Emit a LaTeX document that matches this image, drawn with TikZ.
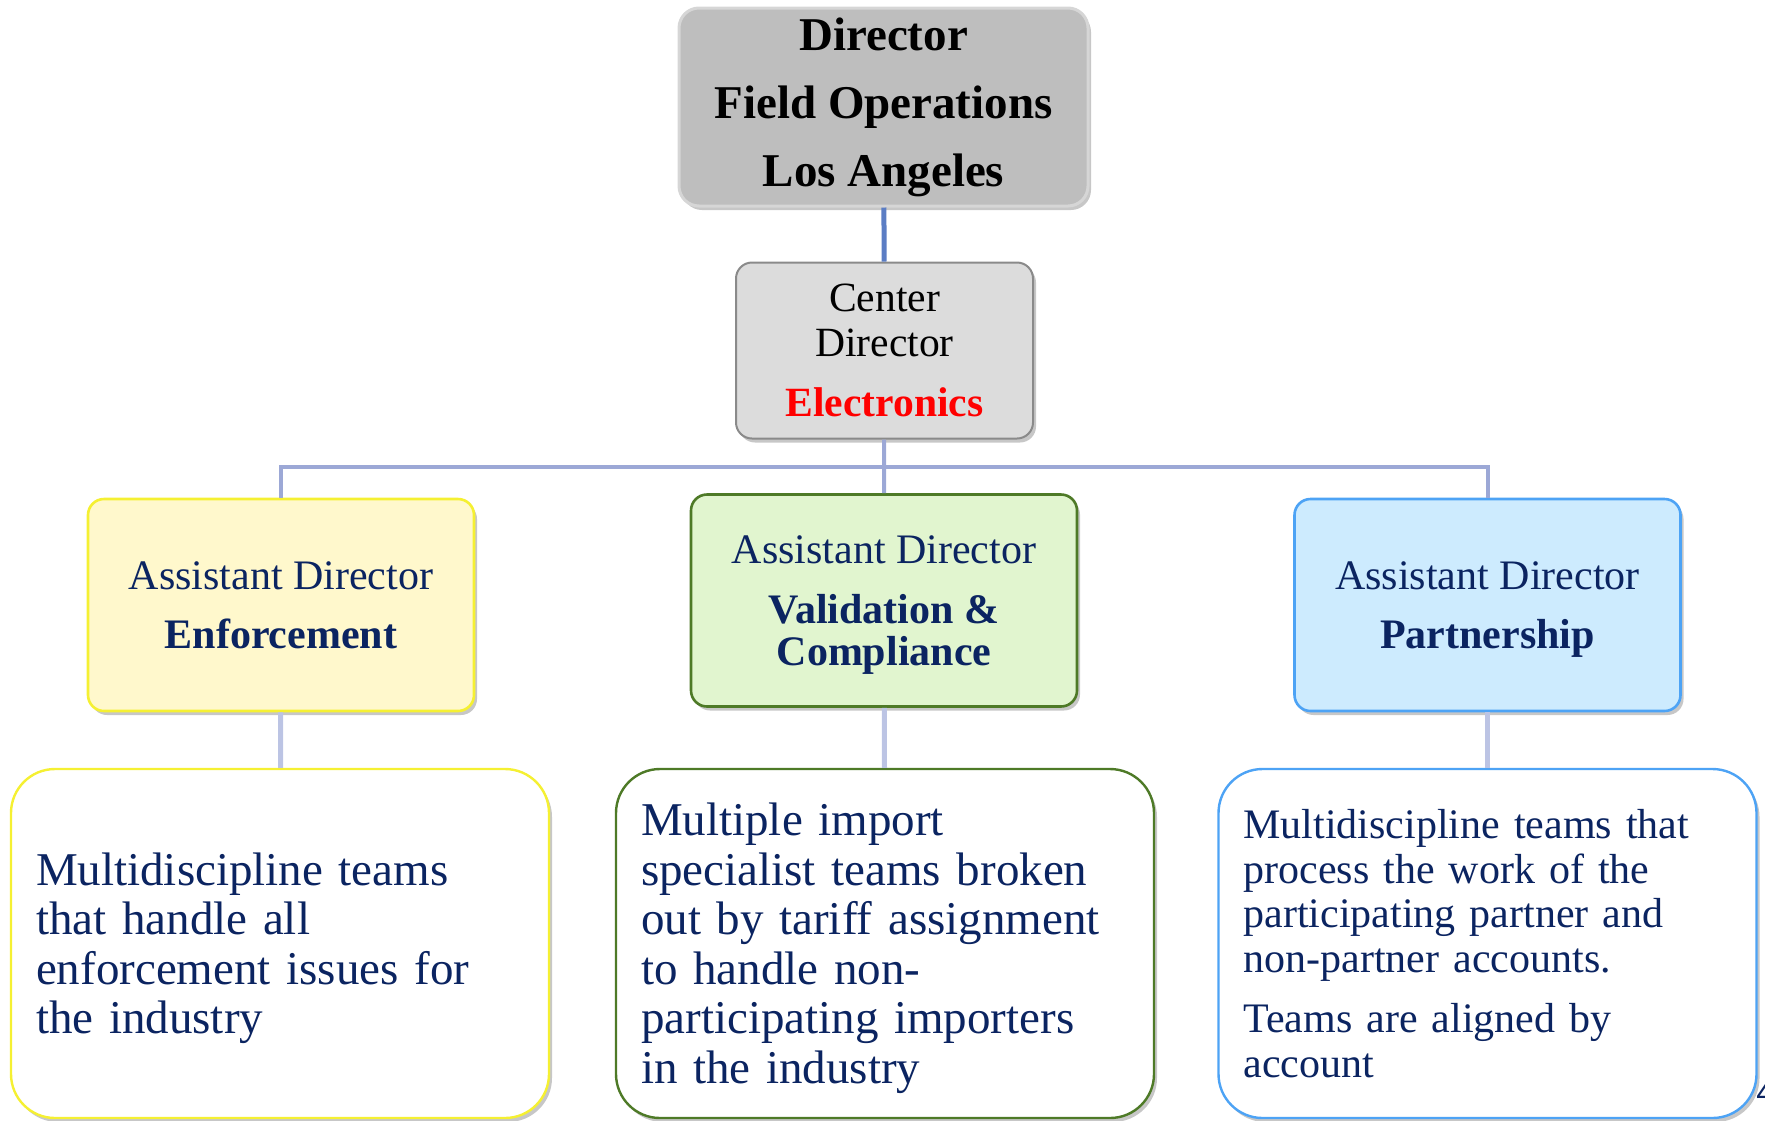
\documentclass[tikz,border=0pt]{standalone}
\usepackage{fontspec}
\setmainfont{Liberation Serif}
\newfontfamily\pagefont{Liberation Sans}
\usepackage{xcolor}
\usetikzlibrary{shadows}
\definecolor{orgNavy}{HTML}{0B2461}
\definecolor{orgGray}{HTML}{BEBEBE}
\definecolor{orgRim}{HTML}{D6D6D6}
\definecolor{orgLight}{HTML}{DCDCDC}
\definecolor{orgEdge}{HTML}{8A8A8A}
\definecolor{orgYellow}{HTML}{FFF8CC}
\definecolor{orgYellowEdge}{HTML}{F5F032}
\definecolor{orgGreen}{HTML}{E1F5CF}
\definecolor{orgGreenEdge}{HTML}{4E7A27}
\definecolor{orgBlue}{HTML}{CDEBFE}
\definecolor{orgBlueEdge}{HTML}{4DA3F5}
\definecolor{orgLinkTop}{HTML}{5B7DC4}
\definecolor{orgLinkBus}{HTML}{9CA8D6}
\definecolor{orgLinkLow}{HTML}{BCC4E4}
\definecolor{orgRed}{HTML}{FF0000}

\begin{document}
\begin{tikzpicture}[
    x=0.5pt,y=-0.5pt,
    shade/.style={drop shadow={shadow xshift=1.5pt,shadow yshift=-2pt,opacity=0.22,fill=black}},
    head/.style={draw=orgRim,line width=1.5pt,fill=orgGray,rounded corners=10pt,shade,
                 minimum width=204.5pt,minimum height=99pt,inner sep=0pt,align=center,
                 font=\fontsize{23.5}{34}\selectfont\bfseries},
    center/.style={draw=orgEdge,line width=1pt,fill=orgLight,rounded corners=8pt,shade,
                   minimum width=148.5pt,minimum height=88pt,inner sep=0pt,align=center,
                   font=\fontsize{20.8}{22.5}\selectfont},
    ad/.style={line width=1.3pt,rounded corners=8pt,shade,text=orgNavy,
               minimum width=193pt,minimum height=106pt,inner sep=0pt,align=center,
               text depth=0pt,font=\fontsize{21}{21}\selectfont},
    team/.style={line width=1.2pt,fill=white,rounded corners=22pt,shade,text=orgNavy,
                 minimum height=174.5pt,inner ysep=0pt,inner xsep=12.5pt,
                 text width=244pt,align=left},
    bigtxt/.style={font=\fontsize{23.5}{24.8}\selectfont},
    smalltxt/.style={font=\fontsize{21}{22.4}\selectfont},
    linktop/.style={draw=orgLinkTop,line width=2.5pt},
    bus/.style={draw=orgLinkBus,line width=2pt},
    linklow/.style={draw=orgLinkLow,line width=2.5pt},
    pagenum/.style={text=orgNavy,font=\pagefont\fontsize{16}{16}\selectfont,inner sep=0pt}
  ]
    \useasboundingbox (0,0) rectangle (1765,1120);

    % management
    \node[head]   (dir) at (883.5,107) {Director\\Field Operations\\Los Angeles};
    \node[center] (cd)  at (884.5,350.5) {Center\\Director\\[7.5pt]\textcolor{orgRed}{\bfseries Electronics}};

    % assistant directors
    \node[ad,draw=orgYellowEdge,fill=orgYellow] (enf) at (281,605)
        {Assistant Director\\[8.5pt]\textbf{Enforcement}};
    \node[ad,draw=orgGreenEdge,fill=orgGreen]   (val) at (884,600.5)
        {Assistant Director\\[9pt]\textbf{Validation \&}\\\textbf{Compliance}};
    \node[ad,draw=orgBlueEdge,fill=orgBlue]     (prt) at (1487.5,605)
        {Assistant Director\\[8.5pt]\textbf{Partnership}};

    % teams
    \node[team,bigtxt,draw=orgYellowEdge] (enfT) at (280,943.5)
        {Multidiscipline teams\\that handle all\\enforcement issues for\\the industr\smash{y}};
    \node[team,bigtxt,draw=orgGreenEdge]  (valT) at (885,943.5)
        {Multiple import\\specialist teams broken\\out by tariff assignment\\to handle non-\\participating importers\\in the industr\smash{y}};
    \node[team,smalltxt,draw=orgBlueEdge] (prtT) at (1487.5,943.5)
        {Multidiscipline teams that\\process the work of the\\participating partner and\\non-partner accounts.\\[7.6pt]Teams are aligned by\\account};

    \node[pagenum,anchor=base west] (pg) at (1756,1103) {4};

    % connectors
    \coordinate (fork) at (884,467);
    \draw[linktop] (dir) -- (cd);
    \draw[bus] (cd) -- (fork) -- (val);
    \draw[bus] (fork) -| (enf);
    \draw[bus] (fork) -| (prt);
    \draw[linklow] (enf) -- (enfT);
    \draw[linklow] (val) -- (valT);
    \draw[linklow] (prt) -- (prtT);
  \end{tikzpicture}
\end{document}
